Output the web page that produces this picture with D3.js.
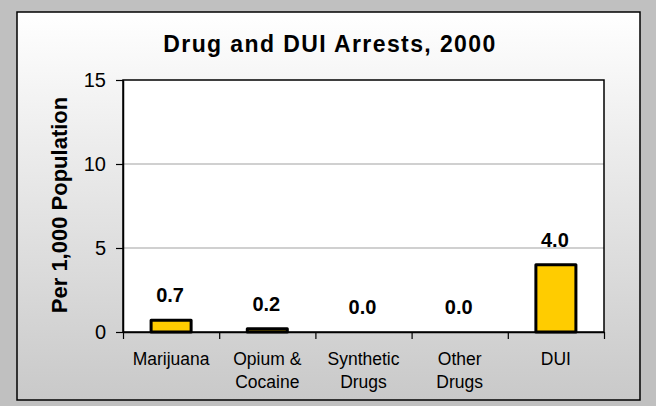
<!DOCTYPE html>
<html>
<head>
<meta charset="utf-8">
<script src="https://cdn.jsdelivr.net/npm/d3@7"></script>
<style>
  body { margin: 0; background: #c0c0c0; }
  text { font-family: "Liberation Sans", Arial, sans-serif; }
</style>
</head>
<body>
<div id="chart"></div>
<script>
(function () {
  'use strict';

  // chart data
  var categories = ["Marijuana", "Opium & Cocaine", "Synthetic Drugs", "Other Drugs", "DUI"];
  var categoryLines = [["Marijuana"], ["Opium &", "Cocaine"], ["Synthetic", "Drugs"], ["Other", "Drugs"], ["DUI"]];
  var arrests = [0.7, 0.2, 0.0, 0.0, 4.0];
  var yTicks = [0, 5, 10, 15];

  var width = 656, height = 406;
  var plot = { left: 123, right: 604, top: 80, bottom: 332 };

  var svg = d3.select("#chart").append("svg")
    .attr("width", width)
    .attr("height", height);

  var defs = svg.append("defs");
  var grad = defs.append("linearGradient")
    .attr("id", "bg")
    .attr("x1", 0).attr("y1", 0).attr("x2", 0).attr("y2", 1);
  grad.append("stop").attr("offset", "0%").attr("stop-color", "#ffffff");
  grad.append("stop").attr("offset", "100%").attr("stop-color", "#c9c9c9");

  // outer frame
  svg.append("rect")
    .attr("x", 0).attr("y", 0)
    .attr("width", width).attr("height", height)
    .attr("fill", "#c0c0c0");
  svg.append("rect")
    .attr("x", 17).attr("y", 12)
    .attr("width", 623).attr("height", 388)
    .attr("fill", "url(#bg)")
    .attr("stroke", "#000")
    .attr("stroke-width", 1.5);

  // title
  svg.append("text")
    .attr("x", 330)
    .attr("y", 52)
    .attr("text-anchor", "middle")
    .style("font-size", "23px")
    .style("font-weight", "bold")
    .style("letter-spacing", "1.4px")
    .text("Drug and DUI Arrests, 2000");

  var y = d3.scaleLinear().domain([0, 15]).range([plot.bottom, plot.top]);
  var x = d3.scaleBand()
    .domain(categories)
    .range([plot.left, plot.right])
    .paddingInner(0.584)
    .paddingOuter(0.292);
  // boundaries between categories, for the x tick marks
  var xEdge = d3.scaleLinear().domain([0, categories.length]).range([plot.left, plot.right]);

  // plot background
  svg.append("rect")
    .attr("x", plot.left).attr("y", plot.top)
    .attr("width", plot.right - plot.left)
    .attr("height", plot.bottom - plot.top)
    .attr("fill", "#fff");

  // gridlines
  svg.append("g")
    .selectAll("line")
    .data(yTicks.filter(function (t) { return t > 0 && t < 15; }))
    .enter().append("line")
    .attr("x1", plot.left).attr("x2", plot.right)
    .attr("y1", function (d) { return y(d); })
    .attr("y2", function (d) { return y(d); })
    .attr("stroke", "#c0c0c0")
    .attr("stroke-width", 1.5);

  // plot frame
  svg.append("rect")
    .attr("x", plot.left).attr("y", plot.top)
    .attr("width", plot.right - plot.left)
    .attr("height", plot.bottom - plot.top)
    .attr("fill", "none")
    .attr("stroke", "#000")
    .attr("stroke-width", 1.5);

  // y axis
  var yAxis = svg.append("g")
    .attr("transform", "translate(" + plot.left + ",0)")
    .call(d3.axisLeft(y).tickValues(yTicks).tickSize(7).tickPadding(10).tickSizeOuter(0));
  yAxis.select(".domain").attr("stroke", "#000").attr("stroke-width", 1.5);
  yAxis.selectAll(".tick line").attr("stroke", "#000").attr("stroke-width", 1.2);
  yAxis.selectAll(".tick text")
    .style("font-size", "20px")
    .style("font-family", "'Liberation Sans', Arial, sans-serif")
    .attr("fill", "#000");

  // x axis ticks
  var xAxis = svg.append("g")
    .attr("transform", "translate(0," + plot.bottom + ")")
    .call(d3.axisBottom(xEdge).tickValues(d3.range(categories.length + 1)).tickSize(7).tickFormat("").tickSizeOuter(0));
  xAxis.select(".domain").attr("stroke", "#000").attr("stroke-width", 1.5);
  xAxis.selectAll(".tick line").attr("stroke", "#000").attr("stroke-width", 1.2);

  // category labels
  var catLabels = svg.append("g")
    .selectAll("text")
    .data(categories)
    .enter().append("text")
    .attr("text-anchor", "middle")
    .attr("x", function (d) { return x(d) + x.bandwidth() / 2; })
    .attr("y", 365)
    .style("font-size", "17.5px")
    .attr("fill", "#000");
  catLabels.each(function (d, i) {
    var t = d3.select(this);
    categoryLines[i].forEach(function (line, j) {
      t.append("tspan")
        .attr("x", x(d) + x.bandwidth() / 2)
        .attr("dy", j === 0 ? 0 : 23)
        .text(line);
    });
  });

  // y axis title
  svg.append("text")
    .attr("transform", "translate(67,205) rotate(-90)")
    .attr("text-anchor", "middle")
    .style("font-size", "22px")
    .style("font-weight", "bold")
    .text("Per 1,000 Population");

  // bars
  svg.append("g")
    .selectAll("rect")
    .data(arrests)
    .enter().append("rect")
    .attr("x", function (d, i) { return x(categories[i]); })
    .attr("y", function (d) { return y(d); })
    .attr("width", x.bandwidth())
    .attr("height", function (d) { return y(0) - y(d); })
    .attr("fill", "#ffcc00")
    .attr("stroke", "#000")
    .attr("stroke-width", 3)
    .attr("stroke-linejoin", "round")
    .style("display", function (d) { return d > 0 ? null : "none"; });

  // value labels
  svg.append("g")
    .selectAll("text")
    .data(arrests)
    .enter().append("text")
    .attr("text-anchor", "middle")
    .attr("x", function (d, i) { return x(categories[i]) + x.bandwidth() / 2 - 1; })
    .attr("y", function (d) { return y(d) - 18; })
    .style("font-size", "20px")
    .style("font-weight", "bold")
    .text(function (d) { return d3.format(".1f")(d); });
})();
</script>
</body>
</html>
